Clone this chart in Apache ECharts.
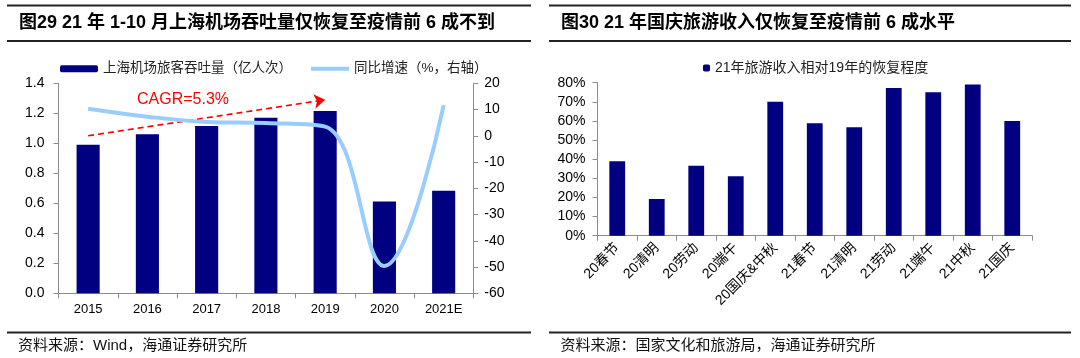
<!DOCTYPE html>
<html><head><meta charset="utf-8">
<script src="https://cdn.jsdelivr.net/npm/echarts@6/dist/echarts.min.js"></script>
<style>html,body{margin:0;padding:0;background:#fff}#c{width:1080px;height:358px}</style>
</head><body><div id="c"></div>
<script>
// ---- data ----
const years = ['2015', '2016', '2017', '2018', '2019', '2020', '2021E'];
const throughput = [0.99, 1.06, 1.115, 1.17, 1.215, 0.612, 0.683];   // 亿人次
const yoyGrowth = [10.3, 7.3, 5.3, 4.9, 3.5, -49.6, 11.7];            // %
const holidays = ['20春节', '20清明', '20劳动', '20端午', '20国庆&中秋', '21春节', '21清明', '21劳动', '21端午', '21中秋', '21国庆'];
const recovery = [38.9, 19.2, 36.6, 31.1, 70.1, 58.8, 56.7, 77.2, 75.0, 79.0, 60.0]; // %
const leftAxisRange = [0, 1.4, 0.2];
const rightAxisRange = [-60, 20, 10];
const pctAxisRange = [0, 80, 10];
const cagrStart = ['2015', 1.05];
const cagrEnd = ['2019', 1.29];

const FONT = "'Liberation Sans','Noto Sans CJK SC',sans-serif";
const AX = '#8c8c8c';
const NAVY = '#000080';
const LINEBLUE = '#99CCFF';

const chart = echarts.init(document.getElementById('c'), null, {renderer: 'canvas'});

function axisCommon() {
  return {
    axisLine: {show: true, lineStyle: {color: AX, width: 1}},
    axisTick: {show: true, length: 5, lineStyle: {color: AX}},
    splitLine: {show: false}
  };
}

const option = {
  animation: false,
  backgroundColor: '#fff',
  textStyle: {fontFamily: FONT},
  grid: [
    {left: 58.5, top: 83.3, width: 414.8, height: 210},
    {left: 597.5, top: 82.7, width: 434.5, height: 153}
  ],
  legend: [
    {left: 55, top: 57, itemWidth: 38, itemHeight: 7, itemGap: 19,
     data: ['上海机场旅客吞吐量（亿人次）',
            {name: '同比增速（%，右轴）', icon: 'path://M0,0H38V4H0Z'}],
     textStyle: {fontSize: 13.5, color: '#222', fontFamily: FONT}},
    {left: 698, top: 56, itemWidth: 7, itemHeight: 7,
     data: ['21年旅游收入相对19年的恢复程度'],
     textStyle: {fontSize: 14, color: '#222', fontFamily: FONT}}
  ],
  xAxis: [
    Object.assign(axisCommon(), {gridIndex: 0, type: 'category', data: years,
      axisLabel: {fontSize: 13, color: '#000', margin: 10, fontFamily: FONT}}),
    Object.assign(axisCommon(), {gridIndex: 1, type: 'category', data: holidays,
      axisLabel: {fontSize: 14, color: '#000', margin: 10, rotate: 45, interval: 0, fontFamily: FONT}})
  ],
  yAxis: [
    Object.assign(axisCommon(), {gridIndex: 0, type: 'value', min: leftAxisRange[0], max: leftAxisRange[1], interval: leftAxisRange[2],
      axisLabel: {fontSize: 14, color: '#000', margin: 14, fontFamily: FONT, formatter: v => v.toFixed(1)}}),
    Object.assign(axisCommon(), {gridIndex: 0, type: 'value', position: 'right', min: rightAxisRange[0], max: rightAxisRange[1], interval: rightAxisRange[2],
      axisLabel: {fontSize: 14, color: '#000', margin: 11, fontFamily: FONT}}),
    Object.assign(axisCommon(), {gridIndex: 1, type: 'value', min: pctAxisRange[0], max: pctAxisRange[1], interval: pctAxisRange[2],
      axisLabel: {fontSize: 14, color: '#000', margin: 12, fontFamily: FONT, formatter: '{value}%'}})
  ],
  series: [
    {name: '上海机场旅客吞吐量（亿人次）', type: 'bar', xAxisIndex: 0, yAxisIndex: 0, data: throughput,
     barWidth: '39%', itemStyle: {color: NAVY},
     markLine: {silent: true, symbol: ['none', 'arrow'], symbolSize: 11,
       lineStyle: {color: '#ff0000', width: 1.6, type: [6, 4]},
       label: {show: false},
       data: [[{coord: cagrStart}, {coord: cagrEnd}]]}},
    {name: '同比增速（%，右轴）', type: 'line', xAxisIndex: 0, yAxisIndex: 1, data: yoyGrowth,
     smooth: 0.4, symbol: 'none', z: 5,
     lineStyle: {color: LINEBLUE, width: 4}, itemStyle: {color: LINEBLUE}},
    {name: '21年旅游收入相对19年的恢复程度', type: 'bar', xAxisIndex: 1, yAxisIndex: 2, data: recovery,
     barWidth: '40%', itemStyle: {color: NAVY}}
  ],
  graphic: [
    // rules
    {type: 'line', shape: {x1: 7, y1: 5.5, x2: 531, y2: 5.5}, style: {stroke: '#222', lineWidth: 2}},
    {type: 'line', shape: {x1: 7, y1: 41, x2: 531, y2: 41}, style: {stroke: '#222', lineWidth: 2}},
    {type: 'line', shape: {x1: 7, y1: 332.5, x2: 531, y2: 332.5}, style: {stroke: '#222', lineWidth: 2}},
    {type: 'line', shape: {x1: 549, y1: 5.5, x2: 1071, y2: 5.5}, style: {stroke: '#222', lineWidth: 2}},
    {type: 'line', shape: {x1: 549, y1: 41, x2: 1071, y2: 41}, style: {stroke: '#222', lineWidth: 2}},
    {type: 'line', shape: {x1: 549, y1: 332.5, x2: 1071, y2: 332.5}, style: {stroke: '#222', lineWidth: 2}},
    // titles
    {type: 'text', x: 19, y: 23.5, style: {text: '图29 21 年 1-10 月上海机场吞吐量仅恢复至疫情前 6 成不到',
      font: 'bold 18px ' + FONT, fill: '#000', verticalAlign: 'middle'}},
    {type: 'text', x: 561, y: 23.5, style: {text: '图30 21 年国庆旅游收入仅恢复至疫情前 6 成水平',
      font: 'bold 18px ' + FONT, fill: '#000', verticalAlign: 'middle'}},
    // sources
    {type: 'text', x: 18, y: 346, style: {text: '资料来源：Wind，海通证券研究所',
      font: '15px ' + FONT, fill: '#111', verticalAlign: 'middle'}},
    {type: 'text', x: 560.5, y: 346, style: {text: '资料来源：国家文化和旅游局，海通证券研究所',
      font: '15px ' + FONT, fill: '#111', verticalAlign: 'middle'}},
    // CAGR annotation
    {type: 'text', x: 137, y: 100, z: 10, style: {text: 'CAGR=5.3%', font: '16px ' + FONT, fill: '#ff0000', verticalAlign: 'middle'}}
  ]
};
chart.setOption(option);
</script>
</body></html>
